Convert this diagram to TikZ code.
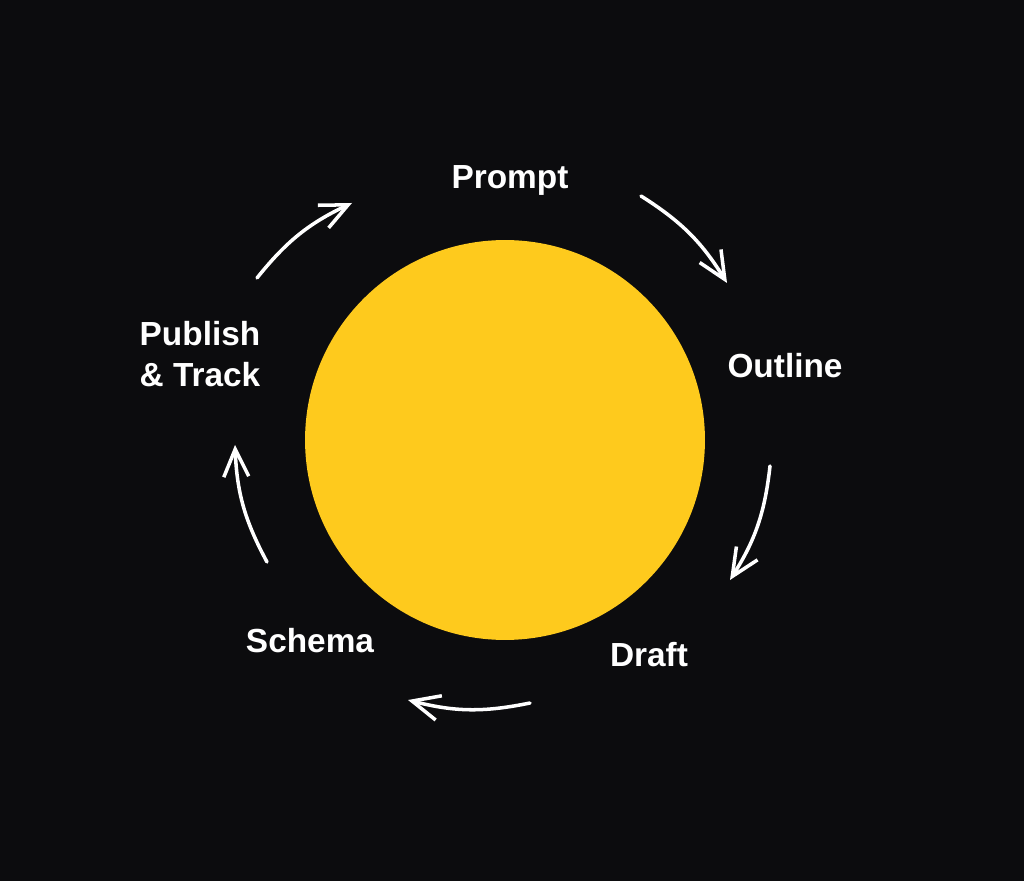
\documentclass[tikz,border=0pt]{standalone}
\usepackage{fontspec}
\setmainfont{Liberation Sans}
\usetikzlibrary{arrows.meta, positioning}
\definecolor{bgdark}{HTML}{0C0C0E}
\definecolor{sunyellow}{HTML}{FECA1D}
\tikzset{
    core/.style={circle, fill=sunyellow, minimum size=8cm, inner sep=0pt},
    stage/.style={text=white, font=\fontsize{19}{23}\selectfont\bfseries, align=left, inner sep=0pt},
    cyclearrow/.style={white, line width=2pt, line cap=round, -{Straight Barb[length=0.55cm, width=0.5cm, line width=2pt]}, bend left=13}
}
\begin{document}
\begin{tikzpicture}[x=0.02cm, y=-0.02cm]

    % Background and frame
    \fill[bgdark] (0,0) rectangle (1024,881);
    \useasboundingbox (0,0) rectangle (1024,881);

    % Central disc
    \node (sun) [core] at (505,440) {};

    % Stages
    \node (prompt) [stage] at (510,180) {Prompt};
    \node (outline) [stage] at (785,366) {Outline};
    \node (draft) [stage] at (649,655) {Draft};
    \node (schema) [stage] at (310,641) {Schema};
    \node (publish) [stage] at (200,354) {Publish\\\& Track};

    % Arrow ends
    \coordinate (a1s) at (641,196);
    \coordinate (a1e) at (727,283);
    \coordinate (a2s) at (770,466);
    \coordinate (a2e) at (730,580);
    \coordinate (a3s) at (530,703);
    \coordinate (a3e) at (408,700);
    \coordinate (a4s) at (267,562);
    \coordinate (a4e) at (235,445);
    \coordinate (a5s) at (257,278);
    \coordinate (a5e) at (352,203);

    % Cycle
    \draw [cyclearrow] (a1s) to (a1e);
    \draw [cyclearrow] (a2s) to (a2e);
    \draw [cyclearrow] (a3s) to (a3e);
    \draw [cyclearrow] (a4s) to (a4e);
    \draw [cyclearrow] (a5s) to (a5e);

\end{tikzpicture}
\end{document}
